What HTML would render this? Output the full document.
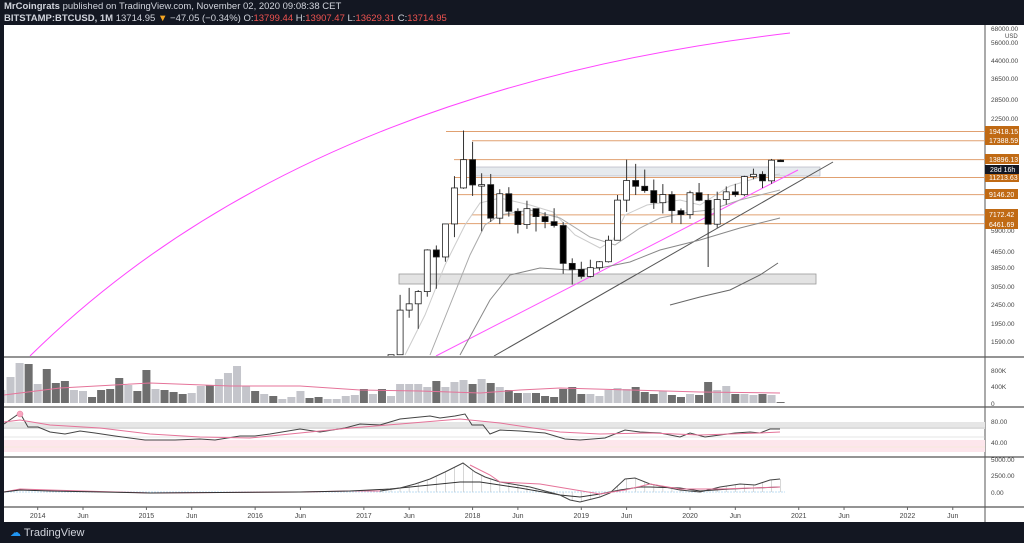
<!DOCTYPE html>
<html><head><meta charset="utf-8"><style>
html,body{margin:0;padding:0;background:#131722;width:1024px;height:543px;overflow:hidden;font-family:"Liberation Sans",sans-serif}
#hdr{position:absolute;left:4px;top:1px;color:#d1d4dc;font-size:9.5px;line-height:12px;white-space:nowrap}
#hdr b{font-weight:bold}
.r{color:#ef5350}
svg{position:absolute;left:0;top:0}
</style></head><body>
<div id="hdr"><b>MrCoingrats</b> published on TradingView.com, November 02, 2020 09:08:38 CET<br><b>BITSTAMP:BTCUSD, 1M</b> 13714.95 <span style="color:#f5a623">▼</span> −47.05 (−0.34%) O:<span class="r">13799.44</span> H:<span class="r">13907.47</span> L:<span class="r">13629.31</span> C:<span class="r">13714.95</span></div>
<svg id="s" width="1024" height="543" xmlns="http://www.w3.org/2000/svg"></svg>
<div style="position:absolute;left:10px;top:526px;color:#d1d4dc;font-size:11px"><span style="color:#2196f3">☁</span> TradingView</div>
<script>
var S=document.getElementById('s'),h='';
function X(m){return 37.7+m*9.06}
function Y(p){return 267-83.7*Math.log(p/3850)}
function pl(pts,c,w){h+='<polyline fill="none" stroke="'+c+'" stroke-width="'+(w||1)+'" points="'+pts.map(function(p){return p.join(',')}).join(' ')+'"/>';}
h+='<rect x="4" y="25" width="1020" height="497" fill="#fff"/>';
h+='<defs><clipPath id="c"><rect x="4" y="25" width="981" height="331"/></clipPath></defs>';
// pane lines
[357,407,457,507].forEach(function(y){h+='<line x1="4" x2="1024" y1="'+y+'" y2="'+y+'" stroke="#555" stroke-width="1.2"/>';});
h+='<line x1="985" x2="985" y1="25" y2="522" stroke="#555"/>';
h+='<g clip-path="url(#c)">';
// pink arc
h+='<path d="M30 356 Q300 90 790 33" fill="none" stroke="#ff44ff" stroke-width="1"/>';
// zones
h+='<rect x="472" y="167" width="348" height="9" fill="#e6eaee" stroke="#aab" stroke-width=".6"/>';
h+='<rect x="399" y="274" width="417" height="10" fill="#e3e3e3" stroke="#999" stroke-width=".8"/>';
// orange lines
[[19418.15,446],[17388.59,472],[13896.13,454],[11213.63,454],[9146.2,453],[7172.42,472],[6461.69,449]].forEach(function(a){var y=Y(a[0]);h+='<line x1="'+a[1]+'" x2="985" y1="'+y+'" y2="'+y+'" stroke="#e0a070" stroke-width="1"/>';});
// trendlines
pl([[436,356],[798,170]],'#ff55ff',1);
pl([[494,356],[833,162]],'#555',1);
// MAs
pl([[405,355],[425,315],[445,265],[465,225],[480,203],[500,198],[530,205],[553,212],[575,235],[600,248],[613,240],[625,215],[647,205],[680,200],[700,205],[730,186],[760,177],[780,174]],'#ccc',1);
pl([[430,355],[450,305],[470,255],[485,225],[500,215],[530,210],[560,218],[590,237],[615,245],[640,228],[660,218],[690,212],[710,210],[740,200],[780,190]],'#aaa',1);
pl([[460,355],[490,300],[510,275],[540,268],[570,270],[600,268],[630,262],[660,250],[700,240],[740,228],[780,218]],'#888',1);
pl([[670,305],[700,297],[730,290],[760,275],[778,263]],'#666',1);
// candles from Apr 2017 (m=39)
var d=[[1080,1350,1060,1350],[1350,2760,1350,2300],[2300,3000,2100,2480],[2480,2920,1840,2870],[2870,4760,2700,4720],[4720,4980,2970,4340],[4340,6450,4100,6440],[6440,11400,5500,9900],[9900,19666,9800,13880],[13880,17170,9000,10260],[10260,11800,5900,10300],[10300,11700,6600,6900],[6900,9750,6430,9240],[9240,9990,7030,7490],[7490,7760,5750,6390],[6390,8500,6070,7730],[7730,7750,5880,7030],[7030,7410,6120,6620],[6620,7770,6170,6320],[6320,6580,3550,4020],[4020,4270,3120,3740],[3740,4100,3350,3440],[3440,4200,3400,3820],[3820,4130,3690,4100],[4100,5600,4060,5300],[5300,9100,5300,8560],[8560,13880,7440,10820],[10820,13200,9100,10100],[10100,12330,9350,9590],[9590,10950,7710,8300],[8300,10370,7300,9150],[9150,9520,6520,7550],[7550,7750,6430,7200],[7200,9580,6850,9350],[9350,10500,8450,8540],[8540,9200,3850,6420],[6420,9470,6150,8620],[8620,10080,8110,9450],[9450,10400,8900,9140],[9140,11450,8970,11340],[11340,12470,10980,11650],[11650,12080,9900,10780],[10780,14000,10400,13790],[13799,13907,13629,13714]];
var up={};
d.forEach(function(c,i){var m=39+i,x=X(m),o=Y(c[0]),hi=Y(c[1]),lo=Y(c[2]),cl=Y(c[3]);var u=c[3]>=c[0];up[m]=u;
h+='<line x1="'+x+'" x2="'+x+'" y1="'+hi+'" y2="'+lo+'" stroke="#333" stroke-width="1"/>';
var t=Math.min(o,cl),bh=Math.max(1.5,Math.abs(o-cl));
h+='<rect x="'+(x-3)+'" y="'+t+'" width="6" height="'+bh+'" fill="'+(u?'#fff':'#000')+'" stroke="#222" stroke-width=".8"/>';});
h+='</g>';
// right price labels
[['68000.00',28],['56000.00',42],['44000.00',60],['36500.00',78],['28500.00',99],['22500.00',118],['4650.00',251],['3850.00',267],['3050.00',286],['2450.00',304],['1950.00',323],['1590.00',341],['5900.00',230]].forEach(function(a){h+='<text x="991" y="'+(a[1]+3)+'" font-size="6.5" fill="#444">'+a[0]+'</text>';});
h+='<text x="1005" y="38" font-size="6" fill="#444">USD</text>';
[['19418.15',131],['17388.59',140],['13896.13',159],['11213.63',177],['9146.20',194],['7172.42',214],['6461.69',224]].forEach(function(a){h+='<rect x="985" y="'+(a[1]-5)+'" width="'+(a[0].length>7?34:33)+'" height="10" fill="#c06a14"/><text x="989" y="'+(a[1]+3)+'" font-size="7" fill="#fff">'+a[0]+'</text>';});
h+='<rect x="985" y="165" width="34" height="9" fill="#131722"/><text x="990" y="172" font-size="7" fill="#fff">28d 16h</text>';
// volume
var vh=[13,26,40,39,19,34,20,22,13,12,6,13,14,25,18,12,33,14,13,11,9,10,17,18,24,30,37,17,12,9,7,4,6,12,5,6,4,4,7,8,14,9,14,7,19,19,19,16,22,16,21,23,19,24,20,16,13,10,10,10,7,6,14,16,9,9,7,13,15,14,16,11,9,12,8,6,9,8,21,13,17,9,9,8,9,8,1];
var dk={'-1':1,1:1,2:1,3:1,6:1,7:1,8:1,9:1,11:1,12:1,14:1,15:1,16:1,19:1,24:1,26:1,30:1,31:1,36:1,38:1};
vh.forEach(function(v,i){var m=i-4,x=X(m);var dark=m>=39?!up[m]:!!dk[m];if(m===39)dark=false;
var x0=Math.max(4,x-4);h+='<rect x="'+x0+'" y="'+(403-v)+'" width="'+(x+4-x0)+'" height="'+v+'" fill="'+(dark?'#6e6e6e':'#c4c5cb')+'"/>';});
pl([[4,395],[60,388],[150,383],[230,386],[300,386],[360,390],[420,391],[480,393],[520,390],[560,388],[630,390],[700,392],[780,393]],'#e57399',1);
[['800K',370],['400K',386],['0',403]].forEach(function(a){h+='<text x="991" y="'+(a[1]+3)+'" font-size="6.5" fill="#444">'+a[0]+'</text>';});
// RSI
h+='<rect x="4" y="422" width="981" height="7" fill="#e6e6e6"/><line x1="4" x2="985" y1="428" y2="428" stroke="#bbb" stroke-width=".6"/>';
h+='<line x1="4" x2="985" y1="437" y2="437" stroke="#ccc" stroke-width=".6"/>';
h+='<rect x="4" y="440" width="981" height="12" fill="#fde6ec"/><line x1="4" x2="985" y1="447" y2="447" stroke="#eec" stroke-width=".6"/>';
pl([[4,424],[20,413],[28,427],[38,427],[50,432],[65,434],[80,431],[95,433],[115,436],[145,440],[175,440],[200,439],[215,440],[240,436],[255,436],[270,434],[300,429],[320,432],[345,428],[360,424],[380,425],[400,419],[420,417],[430,416],[440,418],[455,416],[465,414],[472,425],[483,425],[490,434],[500,430],[520,431],[545,433],[565,439],[580,440],[605,438],[625,430],[640,432],[660,433],[680,437],[690,433],[705,437],[720,435],[735,433],[750,432],[760,433],[770,429],[780,429]],'#444',1);
pl([[4,422],[20,420],[50,425],[100,428],[150,434],[200,437],[250,438],[300,433],[350,428],[400,424],[460,419],[500,423],[560,432],[600,434],[650,433],[700,435],[760,433],[780,432]],'#e57399',1);
h+='<circle cx="20" cy="414" r="3" fill="#f7a8c0" stroke="#e57399" stroke-width=".5"/>';
[['80.00',421],['40.00',442]].forEach(function(a){h+='<text x="991" y="'+(a[1]+3)+'" font-size="6.5" fill="#444">'+a[0]+'</text>';});
// MACD
h+='<line x1="4" x2="785" y1="492" y2="492" stroke="#a8d4f0" stroke-width=".8" stroke-dasharray="2,1"/>';
var mac=[[380,491],[400,488],[415,484],[430,479],[445,472],[463,463],[475,472],[485,477],[500,482],[530,487],[560,495],[570,500],[580,502],[600,497],[610,493],[625,479],[635,478],[650,484],[680,490],[700,492],[720,487],[740,484],[755,485],[770,480],[780,479]];
function interp(a,x){for(var i=1;i<a.length;i++){if(x<=a[i][0]){var t=(x-a[i-1][0])/(a[i][0]-a[i-1][0]);return a[i-1][1]+t*(a[i][1]-a[i-1][1]);}}return a[a.length-1][1];}
for(var m=38;m<=82;m++){var x=X(m);if(x<380)continue;var y=interp(mac,x);h+='<line x1="'+x+'" x2="'+x+'" y1="492" y2="'+y+'" stroke="#ccc" stroke-width=".8"/>';}
pl([[4,492],[20,489],[50,490],[150,493],[300,492],[350,491],[380,491]],'#e57399',1);
pl([[4,492],[20,490],[50,491],[150,493],[300,492],[350,491],[390,489],[420,486],[440,484],[460,482],[480,482],[520,488],[560,495],[580,497],[600,494],[620,490],[640,487],[650,487],[680,488],[700,491],[730,489],[780,487]],'#333',1);
pl(mac,'#444',1);
pl([[470,465],[490,475],[500,482],[540,484],[570,489],[600,494],[625,490],[650,484],[680,489],[720,489],[780,487]],'#e57399',1);
[['5000.00',459],['2500.00',475],['0.00',492]].forEach(function(a){h+='<text x="991" y="'+(a[1]+3)+'" font-size="6.5" fill="#444">'+a[0]+'</text>';});
// date axis
var lb=[['2014',0],['Jun',5],['2015',12],['Jun',17],['2016',24],['Jun',29],['2017',36],['Jun',41],['2018',48],['Jun',53],['2019',60],['Jun',65],['2020',72],['Jun',77],['2021',84],['Jun',89],['2022',96],['Jun',101]];
lb.forEach(function(a){var x=X(a[1]);h+='<line x1="'+x+'" x2="'+x+'" y1="507" y2="510" stroke="#666"/><text x="'+x+'" y="518" font-size="7" fill="#444" text-anchor="middle">'+a[0]+'</text>';});
S.innerHTML=h;
</script>
</body></html>
